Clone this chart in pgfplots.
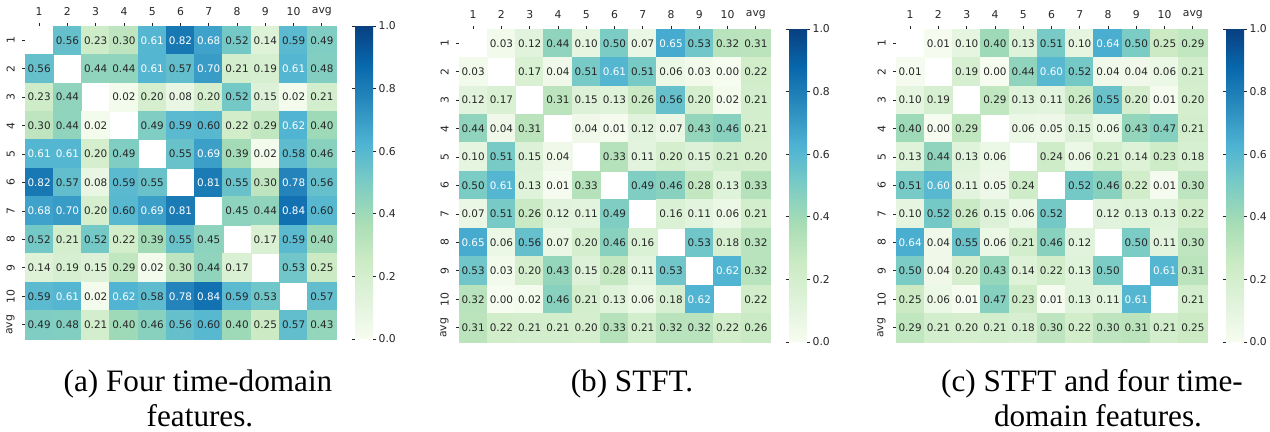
\documentclass[border=0pt]{standalone}
\usepackage{pgfplots}
\pgfplotsset{compat=1.18}
\usepackage{fontspec}
\setmainfont{DejaVu Sans}
\newfontfamily\capfont{Liberation Serif}
\pgfkeys{/pgf/number format/assume math mode=true}
\definecolor{txt}{RGB}{38,38,38}
\newcommand\cellnum{\ifdim\pgfplotspointmeta pt>0.6pt\relax\color{white}\else\color{txt}\fi\pgfmathprintnumber[fixed,fixed zerofill,precision=2]{\pgfplotspointmeta}}
\pgfplotsset{
  colormap={GnBu}{rgb255=(247,252,240) rgb255=(224,243,219) rgb255=(204,235,197) rgb255=(168,221,181) rgb255=(123,204,196) rgb255=(78,179,211) rgb255=(43,140,190) rgb255=(8,104,172) rgb255=(8,64,129)},
  hm/.style={
    scale only axis, width=155.5pt, height=156.5pt, anchor=south west,
    xmin=-0.5, xmax=10.5, ymin=-0.5, ymax=10.5, y dir=reverse,
    axis line style={draw=none},
    xtick={0,...,10}, ytick={0,...,10},
    xticklabels={1,2,3,4,5,6,7,8,9,10,avg},
    yticklabels={1,2,3,4,5,6,7,8,9,10,avg},
    xtick pos=right, xticklabel pos=right, ytick pos=left,
    tick align=outside, major tick length=1.6pt,
    tick style={draw=txt, line width=0.4pt},
    tick label style={font=\fontsize{5.4}{6}\selectfont, text=txt},
    yticklabel style={rotate=90, anchor=south},
    colormap name=GnBu, point meta min=0, point meta max=1,
    colorbar,
    colorbar style={
      width=9pt,
      at={(parent axis.north east)}, anchor=north west, xshift=1pt,
      ytick={0,0.2,0.4,0.6,0.8,1},
      yticklabel style={font=\fontsize{5.4}{6}\selectfont, text=txt, inner sep=1pt,
        /pgf/number format/.cd, fixed, fixed zerofill, precision=1},
      axis line style={draw=none},
      major tick length=1.6pt, tick style={draw=txt, line width=0.4pt}, tick align=outside,
    },
  },
  hmcellsx/.style={
    scatter, only marks, mark=square*, mark size=7.1pt,
    scatter/use mapped color={draw=mapped color, fill=mapped color},
    point meta=explicit,
  },
  hmtextx/.style={
    only marks, mark=none,
    point meta=explicit symbolic,
    nodes near coords={\cellnum},
    nodes near coords style={anchor=center, font=\fontsize{5.2}{6}\selectfont, inner sep=0pt},
  },
}
\begin{document}
\begin{tikzpicture}
\useasboundingbox (0,0) rectangle (635pt,216pt);
% ---------------- (a)
\begin{axis}[hm, at={(12.5pt,46.5pt)}]
\addplot[hmcellsx] coordinates {
(1,0)[0.56] (2,0)[0.23] (3,0)[0.30] (4,0)[0.61] (5,0)[0.82] (6,0)[0.68] (7,0)[0.52] (8,0)[0.14] (9,0)[0.59] (10,0)[0.49]
(0,1)[0.56] (2,1)[0.44] (3,1)[0.44] (4,1)[0.61] (5,1)[0.57] (6,1)[0.70] (7,1)[0.21] (8,1)[0.19] (9,1)[0.61] (10,1)[0.48]
(0,2)[0.23] (1,2)[0.44] (3,2)[0.02] (4,2)[0.20] (5,2)[0.08] (6,2)[0.20] (7,2)[0.52] (8,2)[0.15] (9,2)[0.02] (10,2)[0.21]
(0,3)[0.30] (1,3)[0.44] (2,3)[0.02] (4,3)[0.49] (5,3)[0.59] (6,3)[0.60] (7,3)[0.22] (8,3)[0.29] (9,3)[0.62] (10,3)[0.40]
(0,4)[0.61] (1,4)[0.61] (2,4)[0.20] (3,4)[0.49] (5,4)[0.55] (6,4)[0.69] (7,4)[0.39] (8,4)[0.02] (9,4)[0.58] (10,4)[0.46]
(0,5)[0.82] (1,5)[0.57] (2,5)[0.08] (3,5)[0.59] (4,5)[0.55] (6,5)[0.81] (7,5)[0.55] (8,5)[0.30] (9,5)[0.78] (10,5)[0.56]
(0,6)[0.68] (1,6)[0.70] (2,6)[0.20] (3,6)[0.60] (4,6)[0.69] (5,6)[0.81] (7,6)[0.45] (8,6)[0.44] (9,6)[0.84] (10,6)[0.60]
(0,7)[0.52] (1,7)[0.21] (2,7)[0.52] (3,7)[0.22] (4,7)[0.39] (5,7)[0.55] (6,7)[0.45] (8,7)[0.17] (9,7)[0.59] (10,7)[0.40]
(0,8)[0.14] (1,8)[0.19] (2,8)[0.15] (3,8)[0.29] (4,8)[0.02] (5,8)[0.30] (6,8)[0.44] (7,8)[0.17] (9,8)[0.53] (10,8)[0.25]
(0,9)[0.59] (1,9)[0.61] (2,9)[0.02] (3,9)[0.62] (4,9)[0.58] (5,9)[0.78] (6,9)[0.84] (7,9)[0.59] (8,9)[0.53] (10,9)[0.57]
(0,10)[0.49] (1,10)[0.48] (2,10)[0.21] (3,10)[0.40] (4,10)[0.46] (5,10)[0.56] (6,10)[0.60] (7,10)[0.40] (8,10)[0.25] (9,10)[0.57] (10,10)[0.43]
};
\addplot[hmtextx] coordinates {
(1,0)[0.56] (2,0)[0.23] (3,0)[0.30] (4,0)[0.61] (5,0)[0.82] (6,0)[0.68] (7,0)[0.52] (8,0)[0.14] (9,0)[0.59] (10,0)[0.49]
(0,1)[0.56] (2,1)[0.44] (3,1)[0.44] (4,1)[0.61] (5,1)[0.57] (6,1)[0.70] (7,1)[0.21] (8,1)[0.19] (9,1)[0.61] (10,1)[0.48]
(0,2)[0.23] (1,2)[0.44] (3,2)[0.02] (4,2)[0.20] (5,2)[0.08] (6,2)[0.20] (7,2)[0.52] (8,2)[0.15] (9,2)[0.02] (10,2)[0.21]
(0,3)[0.30] (1,3)[0.44] (2,3)[0.02] (4,3)[0.49] (5,3)[0.59] (6,3)[0.60] (7,3)[0.22] (8,3)[0.29] (9,3)[0.62] (10,3)[0.40]
(0,4)[0.61] (1,4)[0.61] (2,4)[0.20] (3,4)[0.49] (5,4)[0.55] (6,4)[0.69] (7,4)[0.39] (8,4)[0.02] (9,4)[0.58] (10,4)[0.46]
(0,5)[0.82] (1,5)[0.57] (2,5)[0.08] (3,5)[0.59] (4,5)[0.55] (6,5)[0.81] (7,5)[0.55] (8,5)[0.30] (9,5)[0.78] (10,5)[0.56]
(0,6)[0.68] (1,6)[0.70] (2,6)[0.20] (3,6)[0.60] (4,6)[0.69] (5,6)[0.81] (7,6)[0.45] (8,6)[0.44] (9,6)[0.84] (10,6)[0.60]
(0,7)[0.52] (1,7)[0.21] (2,7)[0.52] (3,7)[0.22] (4,7)[0.39] (5,7)[0.55] (6,7)[0.45] (8,7)[0.17] (9,7)[0.59] (10,7)[0.40]
(0,8)[0.14] (1,8)[0.19] (2,8)[0.15] (3,8)[0.29] (4,8)[0.02] (5,8)[0.30] (6,8)[0.44] (7,8)[0.17] (9,8)[0.53] (10,8)[0.25]
(0,9)[0.59] (1,9)[0.61] (2,9)[0.02] (3,9)[0.62] (4,9)[0.58] (5,9)[0.78] (6,9)[0.84] (7,9)[0.59] (8,9)[0.53] (10,9)[0.57]
(0,10)[0.49] (1,10)[0.48] (2,10)[0.21] (3,10)[0.40] (4,10)[0.46] (5,10)[0.56] (6,10)[0.60] (7,10)[0.40] (8,10)[0.25] (9,10)[0.57] (10,10)[0.43]
};
\end{axis}
% ---------------- (b)
\begin{axis}[hm, at={(229.5pt,45pt)}]
\addplot[hmcellsx] coordinates {
(1,0)[0.03] (2,0)[0.12] (3,0)[0.44] (4,0)[0.10] (5,0)[0.50] (6,0)[0.07] (7,0)[0.65] (8,0)[0.53] (9,0)[0.32] (10,0)[0.31]
(0,1)[0.03] (2,1)[0.17] (3,1)[0.04] (4,1)[0.51] (5,1)[0.61] (6,1)[0.51] (7,1)[0.06] (8,1)[0.03] (9,1)[0.00] (10,1)[0.22]
(0,2)[0.12] (1,2)[0.17] (3,2)[0.31] (4,2)[0.15] (5,2)[0.13] (6,2)[0.26] (7,2)[0.56] (8,2)[0.20] (9,2)[0.02] (10,2)[0.21]
(0,3)[0.44] (1,3)[0.04] (2,3)[0.31] (4,3)[0.04] (5,3)[0.01] (6,3)[0.12] (7,3)[0.07] (8,3)[0.43] (9,3)[0.46] (10,3)[0.21]
(0,4)[0.10] (1,4)[0.51] (2,4)[0.15] (3,4)[0.04] (5,4)[0.33] (6,4)[0.11] (7,4)[0.20] (8,4)[0.15] (9,4)[0.21] (10,4)[0.20]
(0,5)[0.50] (1,5)[0.61] (2,5)[0.13] (3,5)[0.01] (4,5)[0.33] (6,5)[0.49] (7,5)[0.46] (8,5)[0.28] (9,5)[0.13] (10,5)[0.33]
(0,6)[0.07] (1,6)[0.51] (2,6)[0.26] (3,6)[0.12] (4,6)[0.11] (5,6)[0.49] (7,6)[0.16] (8,6)[0.11] (9,6)[0.06] (10,6)[0.21]
(0,7)[0.65] (1,7)[0.06] (2,7)[0.56] (3,7)[0.07] (4,7)[0.20] (5,7)[0.46] (6,7)[0.16] (8,7)[0.53] (9,7)[0.18] (10,7)[0.32]
(0,8)[0.53] (1,8)[0.03] (2,8)[0.20] (3,8)[0.43] (4,8)[0.15] (5,8)[0.28] (6,8)[0.11] (7,8)[0.53] (9,8)[0.62] (10,8)[0.32]
(0,9)[0.32] (1,9)[0.00] (2,9)[0.02] (3,9)[0.46] (4,9)[0.21] (5,9)[0.13] (6,9)[0.06] (7,9)[0.18] (8,9)[0.62] (10,9)[0.22]
(0,10)[0.31] (1,10)[0.22] (2,10)[0.21] (3,10)[0.21] (4,10)[0.20] (5,10)[0.33] (6,10)[0.21] (7,10)[0.32] (8,10)[0.32] (9,10)[0.22] (10,10)[0.26]
};
\addplot[hmtextx] coordinates {
(1,0)[0.03] (2,0)[0.12] (3,0)[0.44] (4,0)[0.10] (5,0)[0.50] (6,0)[0.07] (7,0)[0.65] (8,0)[0.53] (9,0)[0.32] (10,0)[0.31]
(0,1)[0.03] (2,1)[0.17] (3,1)[0.04] (4,1)[0.51] (5,1)[0.61] (6,1)[0.51] (7,1)[0.06] (8,1)[0.03] (9,1)[0.00] (10,1)[0.22]
(0,2)[0.12] (1,2)[0.17] (3,2)[0.31] (4,2)[0.15] (5,2)[0.13] (6,2)[0.26] (7,2)[0.56] (8,2)[0.20] (9,2)[0.02] (10,2)[0.21]
(0,3)[0.44] (1,3)[0.04] (2,3)[0.31] (4,3)[0.04] (5,3)[0.01] (6,3)[0.12] (7,3)[0.07] (8,3)[0.43] (9,3)[0.46] (10,3)[0.21]
(0,4)[0.10] (1,4)[0.51] (2,4)[0.15] (3,4)[0.04] (5,4)[0.33] (6,4)[0.11] (7,4)[0.20] (8,4)[0.15] (9,4)[0.21] (10,4)[0.20]
(0,5)[0.50] (1,5)[0.61] (2,5)[0.13] (3,5)[0.01] (4,5)[0.33] (6,5)[0.49] (7,5)[0.46] (8,5)[0.28] (9,5)[0.13] (10,5)[0.33]
(0,6)[0.07] (1,6)[0.51] (2,6)[0.26] (3,6)[0.12] (4,6)[0.11] (5,6)[0.49] (7,6)[0.16] (8,6)[0.11] (9,6)[0.06] (10,6)[0.21]
(0,7)[0.65] (1,7)[0.06] (2,7)[0.56] (3,7)[0.07] (4,7)[0.20] (5,7)[0.46] (6,7)[0.16] (8,7)[0.53] (9,7)[0.18] (10,7)[0.32]
(0,8)[0.53] (1,8)[0.03] (2,8)[0.20] (3,8)[0.43] (4,8)[0.15] (5,8)[0.28] (6,8)[0.11] (7,8)[0.53] (9,8)[0.62] (10,8)[0.32]
(0,9)[0.32] (1,9)[0.00] (2,9)[0.02] (3,9)[0.46] (4,9)[0.21] (5,9)[0.13] (6,9)[0.06] (7,9)[0.18] (8,9)[0.62] (10,9)[0.22]
(0,10)[0.31] (1,10)[0.22] (2,10)[0.21] (3,10)[0.21] (4,10)[0.20] (5,10)[0.33] (6,10)[0.21] (7,10)[0.32] (8,10)[0.32] (9,10)[0.22] (10,10)[0.26]
};
\end{axis}
% ---------------- (c)
\begin{axis}[hm, at={(448pt,45pt)}]
\addplot[hmcellsx] coordinates {
(1,0)[0.01] (2,0)[0.10] (3,0)[0.40] (4,0)[0.13] (5,0)[0.51] (6,0)[0.10] (7,0)[0.64] (8,0)[0.50] (9,0)[0.25] (10,0)[0.29]
(0,1)[0.01] (2,1)[0.19] (3,1)[0.00] (4,1)[0.44] (5,1)[0.601] (6,1)[0.52] (7,1)[0.04] (8,1)[0.04] (9,1)[0.06] (10,1)[0.21]
(0,2)[0.10] (1,2)[0.19] (3,2)[0.29] (4,2)[0.13] (5,2)[0.11] (6,2)[0.26] (7,2)[0.55] (8,2)[0.20] (9,2)[0.01] (10,2)[0.20]
(0,3)[0.40] (1,3)[0.00] (2,3)[0.29] (4,3)[0.06] (5,3)[0.05] (6,3)[0.15] (7,3)[0.06] (8,3)[0.43] (9,3)[0.47] (10,3)[0.21]
(0,4)[0.13] (1,4)[0.44] (2,4)[0.13] (3,4)[0.06] (5,4)[0.24] (6,4)[0.06] (7,4)[0.21] (8,4)[0.14] (9,4)[0.23] (10,4)[0.18]
(0,5)[0.51] (1,5)[0.601] (2,5)[0.11] (3,5)[0.05] (4,5)[0.24] (6,5)[0.52] (7,5)[0.46] (8,5)[0.22] (9,5)[0.01] (10,5)[0.30]
(0,6)[0.10] (1,6)[0.52] (2,6)[0.26] (3,6)[0.15] (4,6)[0.06] (5,6)[0.52] (7,6)[0.12] (8,6)[0.13] (9,6)[0.13] (10,6)[0.22]
(0,7)[0.64] (1,7)[0.04] (2,7)[0.55] (3,7)[0.06] (4,7)[0.21] (5,7)[0.46] (6,7)[0.12] (8,7)[0.50] (9,7)[0.11] (10,7)[0.30]
(0,8)[0.50] (1,8)[0.04] (2,8)[0.20] (3,8)[0.43] (4,8)[0.14] (5,8)[0.22] (6,8)[0.13] (7,8)[0.50] (9,8)[0.61] (10,8)[0.31]
(0,9)[0.25] (1,9)[0.06] (2,9)[0.01] (3,9)[0.47] (4,9)[0.23] (5,9)[0.01] (6,9)[0.13] (7,9)[0.11] (8,9)[0.61] (10,9)[0.21]
(0,10)[0.29] (1,10)[0.21] (2,10)[0.20] (3,10)[0.21] (4,10)[0.18] (5,10)[0.30] (6,10)[0.22] (7,10)[0.30] (8,10)[0.31] (9,10)[0.21] (10,10)[0.25]
};
\addplot[hmtextx] coordinates {
(1,0)[0.01] (2,0)[0.10] (3,0)[0.40] (4,0)[0.13] (5,0)[0.51] (6,0)[0.10] (7,0)[0.64] (8,0)[0.50] (9,0)[0.25] (10,0)[0.29]
(0,1)[0.01] (2,1)[0.19] (3,1)[0.00] (4,1)[0.44] (5,1)[0.601] (6,1)[0.52] (7,1)[0.04] (8,1)[0.04] (9,1)[0.06] (10,1)[0.21]
(0,2)[0.10] (1,2)[0.19] (3,2)[0.29] (4,2)[0.13] (5,2)[0.11] (6,2)[0.26] (7,2)[0.55] (8,2)[0.20] (9,2)[0.01] (10,2)[0.20]
(0,3)[0.40] (1,3)[0.00] (2,3)[0.29] (4,3)[0.06] (5,3)[0.05] (6,3)[0.15] (7,3)[0.06] (8,3)[0.43] (9,3)[0.47] (10,3)[0.21]
(0,4)[0.13] (1,4)[0.44] (2,4)[0.13] (3,4)[0.06] (5,4)[0.24] (6,4)[0.06] (7,4)[0.21] (8,4)[0.14] (9,4)[0.23] (10,4)[0.18]
(0,5)[0.51] (1,5)[0.601] (2,5)[0.11] (3,5)[0.05] (4,5)[0.24] (6,5)[0.52] (7,5)[0.46] (8,5)[0.22] (9,5)[0.01] (10,5)[0.30]
(0,6)[0.10] (1,6)[0.52] (2,6)[0.26] (3,6)[0.15] (4,6)[0.06] (5,6)[0.52] (7,6)[0.12] (8,6)[0.13] (9,6)[0.13] (10,6)[0.22]
(0,7)[0.64] (1,7)[0.04] (2,7)[0.55] (3,7)[0.06] (4,7)[0.21] (5,7)[0.46] (6,7)[0.12] (8,7)[0.50] (9,7)[0.11] (10,7)[0.30]
(0,8)[0.50] (1,8)[0.04] (2,8)[0.20] (3,8)[0.43] (4,8)[0.14] (5,8)[0.22] (6,8)[0.13] (7,8)[0.50] (9,8)[0.61] (10,8)[0.31]
(0,9)[0.25] (1,9)[0.06] (2,9)[0.01] (3,9)[0.47] (4,9)[0.23] (5,9)[0.01] (6,9)[0.13] (7,9)[0.11] (8,9)[0.61] (10,9)[0.21]
(0,10)[0.29] (1,10)[0.21] (2,10)[0.20] (3,10)[0.21] (4,10)[0.18] (5,10)[0.30] (6,10)[0.22] (7,10)[0.30] (8,10)[0.31] (9,10)[0.21] (10,10)[0.25]
};
\end{axis}
\begin{scope}[every node/.style={font=\capfont\fontsize{15.6}{17.5}\selectfont, anchor=base, inner sep=0pt}]
\node at (99pt,20pt) {(a) Four time-domain};
\node at (100pt,2.5pt) {features.};
\node at (316pt,20pt) {(b) STFT.};
\node at (546pt,20pt) {(c) STFT and four time-};
\node at (549pt,2.5pt) {domain features.};
\end{scope}
\end{tikzpicture}
\end{document}
